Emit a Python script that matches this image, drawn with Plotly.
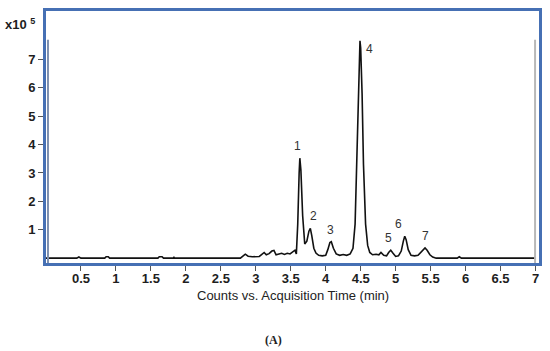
import plotly.graph_objects as go

# Chromatogram trace: time (min) and counts (x10^5)
time_min = [0.00, 0.44, 0.47, 0.50, 0.84, 0.86, 0.89, 0.91, 1.60, 1.62, 1.66, 1.68,
            1.82, 1.83, 1.84, 2.78, 2.82, 2.85, 2.89, 2.95, 3.05, 3.09, 3.12, 3.15,
            3.19, 3.23, 3.26, 3.29, 3.33, 3.37, 3.41, 3.45, 3.49, 3.53, 3.56, 3.58,
            3.60, 3.62, 3.63, 3.645, 3.67, 3.70, 3.73, 3.76, 3.78, 3.80, 3.83, 3.86,
            3.90, 3.95, 4.00, 4.03, 4.06, 4.08, 4.11, 4.15, 4.20, 4.25, 4.30, 4.35,
            4.39, 4.42, 4.45, 4.47, 4.48, 4.49, 4.50, 4.52, 4.54, 4.57, 4.60, 4.63,
            4.67, 4.72, 4.76, 4.79, 4.83, 4.87, 4.90, 4.93, 4.96, 5.00, 5.04, 5.08,
            5.11, 5.13, 5.15, 5.18, 5.22, 5.27, 5.32, 5.36, 5.39, 5.42, 5.45, 5.49,
            5.53, 5.58, 5.88, 5.91, 5.94, 7.00]
counts_e5 = [0.00, 0.00, 0.04, 0.00, 0.00, 0.05, 0.05, 0.00, 0.00, 0.05, 0.05, 0.00,
             0.00, 0.03, 0.00, 0.00, 0.08, 0.14, 0.07, 0.05, 0.06, 0.14, 0.20, 0.12,
             0.16, 0.25, 0.27, 0.12, 0.14, 0.17, 0.13, 0.17, 0.15, 0.22, 0.28, 0.15,
             1.20, 3.00, 3.52, 3.10, 1.50, 0.50, 0.60, 0.95, 1.05, 0.80, 0.35, 0.18,
             0.10, 0.08, 0.10, 0.30, 0.55, 0.58, 0.35, 0.15, 0.10, 0.13, 0.10, 0.15,
             0.35, 1.20, 3.80, 6.20, 7.30, 7.65, 7.40, 5.80, 3.30, 1.20, 0.45, 0.20,
             0.12, 0.14, 0.12, 0.20, 0.10, 0.08, 0.20, 0.28, 0.18, 0.06, 0.08, 0.25,
             0.60, 0.77, 0.65, 0.30, 0.10, 0.08, 0.10, 0.20, 0.30, 0.36, 0.28, 0.12,
             0.04, 0.00, 0.00, 0.05, 0.00, 0.00]

# Peak labels
peak_labels = ["1", "2", "3", "4", "5", "6", "7"]
peak_times = [3.63, 3.78, 4.07, 4.49, 4.93, 5.13, 5.42]
peak_heights = [3.52, 1.05, 0.58, 7.65, 0.28, 0.77, 0.36]

x_ticks = [0.5, 1, 1.5, 2, 2.5, 3, 3.5, 4, 4.5, 5, 5.5, 6, 6.5, 7]
x_tick_text = ["0.5", "1", "1.5", "2", "2.5", "3", "3.5", "4", "4.5", "5", "5.5", "6", "6.5", "7"]
y_ticks = [1, 2, 3, 4, 5, 6, 7]

BLUE = "#4670b4"
TICKFONT = dict(family="Liberation Sans, Arial", size=13, color="#1e1e1e", weight="bold")

fig = go.Figure()
fig.add_trace(go.Scatter(x=time_min, y=counts_e5, mode="lines",
                         line=dict(color="#111111", width=1.6), showlegend=False,
                         hoverinfo="skip"))

label_shift = [(-2, 12), (3, 12), (0, 12), (10, -8), (-2, 12), (-6, 12), (0, 12)]
for lab, t, h, (dx, dy) in zip(peak_labels, peak_times, peak_heights, label_shift):
    fig.add_annotation(x=t, y=h, text=lab, showarrow=False, xshift=dx, yshift=dy,
                       font=dict(family="Liberation Sans, Arial", size=12, color="#333333"))

fig.add_annotation(xref="paper", yref="paper", x=-0.087, y=0.95, xanchor="left",
                   yanchor="middle", showarrow=False, text="x10 <sup>5</sup>",
                   font=TICKFONT)
fig.add_annotation(xref="paper", yref="paper", x=0.5, y=-0.128, showarrow=False,
                   yanchor="middle", text="Counts vs. Acquisition Time (min)",
                   font=dict(family="Liberation Sans, Arial", size=13, color="#222222"))
fig.add_annotation(xref="paper", yref="paper", x=0.4615, y=-0.306, showarrow=False,
                   yanchor="middle", text="<b>(A)</b>",
                   font=dict(family="Liberation Serif, Times New Roman", size=12, color="#222222"))

# inner grey edges
fig.add_shape(type="line", xref="paper", yref="paper", x0=0.992, x1=0.992, y0=0.0, y1=0.886,
              line=dict(color="#b8b8b8", width=2))
fig.add_shape(type="line", xref="paper", yref="paper", x0=0.004, x1=0.004, y0=0.0, y1=0.886,
              line=dict(color="#7d8fae", width=2))

fig.update_xaxes(range=[0, 7.05], tickvals=x_ticks, ticktext=x_tick_text,
                 showgrid=False, zeroline=False, showline=True, mirror=True,
                 linecolor=BLUE, linewidth=3, ticks="outside", ticklen=5,
                 ticklabelstandoff=-4,
                 tickcolor="#555555", tickfont=TICKFONT)
fig.update_yaxes(range=[-0.17, 8.7], tickvals=y_ticks, showgrid=False, zeroline=False,
                 showline=True, mirror=True, linecolor=BLUE, linewidth=3,
                 ticks="outside", ticklen=5, tickcolor="#555555",
                 tickfont=TICKFONT)

fig.update_layout(width=550, height=351, margin=dict(l=46, r=9, t=8, b=88),
                  plot_bgcolor="white", paper_bgcolor="white")

fig.write_html("out.html", config={"displayModeBar": False},
               post_script="document.body.style.margin='0';document.body.style.overflow='hidden';")
